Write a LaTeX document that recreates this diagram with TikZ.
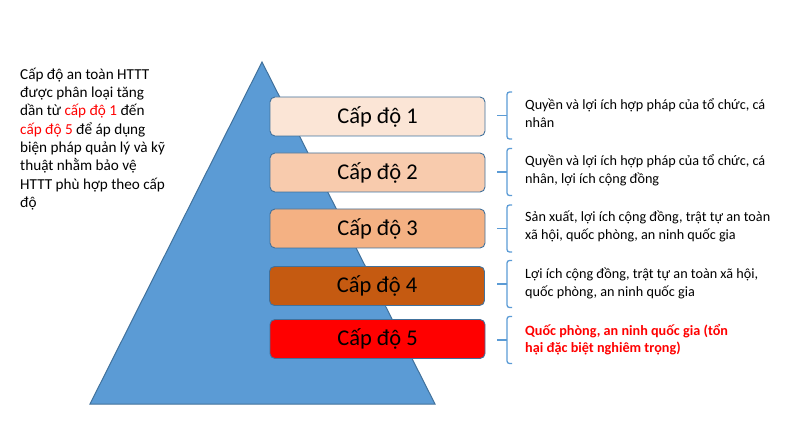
\documentclass[tikz,border=0pt]{standalone}
\usepackage{fontspec}
\setmainfont{Carlito}
\usetikzlibrary{calc}
\definecolor{tri}{HTML}{5B9BD5}
\definecolor{bordc}{HTML}{41719C}
\definecolor{cA}{HTML}{FBE5D6}
\definecolor{cB}{HTML}{F8CBAD}
\definecolor{cC}{HTML}{F4B183}
\definecolor{cD}{HTML}{C55A11}
\definecolor{cE}{HTML}{FF0000}
\definecolor{brc}{HTML}{5B9BD5}
\definecolor{txtred}{HTML}{FF0000}
\begin{document}
\begin{tikzpicture}[x=1pt,y=-1pt,
  lvl/.style={draw=bordc, line width=0.9pt, rounded corners=5pt, minimum width=215pt, minimum height=39pt, inner sep=0pt, font=\fontsize{22.5}{27}\selectfont},
  desc/.style={anchor=west, align=left, inner sep=0pt, font=\fontsize{14.2}{18}\selectfont},
  brk/.style={draw=brc, line width=1.3pt}]
\useasboundingbox (0,0) rectangle (800,427);
% pyramid
\draw[fill=tri, draw=bordc, line width=1pt, line join=miter] (90,404) -- (262,62) -- (435,404) -- cycle;
% left text
\node[anchor=west, align=left, inner sep=0pt, font=\fontsize{15.2}{18.3}\selectfont] (intro) at (20,139)
 {Cấp độ an toàn HTTT\\ được phân loại tăng\\ dần từ \textcolor{txtred}{cấp độ 1} đến\\ \textcolor{txtred}{cấp độ 5} để áp dụng\\ biện pháp quản lý và kỹ\\ thuật nhằm bảo vệ\\ HTTT phù hợp theo cấp\\ độ};
% level boxes
\node[lvl, fill=cA] (l1) at (377.5,116.5) {Cấp độ 1};
\node[lvl, fill=cB] (l2) at (377.5,172.5) {Cấp độ 2};
\node[lvl, fill=cC] (l3) at (377.5,228.5) {Cấp độ 3};
\node[lvl, fill=cD] (l4) at (377,286) {Cấp độ 4};
\node[lvl, fill=cE] (l5) at (377.5,339) {Cấp độ 5};
% descriptions
\node[desc] (d1) at (525,113.5) {Quyền và lợi ích hợp pháp của tổ chức, cá\\ nhân};
\node[desc] (d2) at (525,170) {Quyền và lợi ích hợp pháp của tổ chức, cá\\ nhân, lợi ích cộng đồng};
\node[desc] (d3) at (525,226.5) {Sản xuất, lợi ích cộng đồng, trật tự an toàn\\ xã hội, quốc phòng, an ninh quốc gia};
\node[desc] (d4) at (525,283) {Lợi ích cộng đồng, trật tự an toàn xã hội,\\ quốc phòng, an ninh quốc gia};
\node[desc, text=txtred, font=\fontsize{14.2}{16.5}\selectfont\bfseries] (d5) at (525,339.5) {Quốc phòng, an ninh quốc gia (tổn\\ hại đặc biệt nghiêm trọng)};
% brackets
\foreach \i/\m in {1/115.5,2/172,3/228.5,4/284,5/340}{
  \coordinate (b\i) at (507,\m);
  \draw[brk, rounded corners=2.5pt] ($(b\i)+(5,-23.5)$) -- ($(b\i)+(0,-23.5)$) -- ($(b\i)+(0,23.5)$) -- ($(b\i)+(5,23.5)$);
  \draw[brk] (b\i) -- ++(-10,0);
}
\end{tikzpicture}
\end{document}
